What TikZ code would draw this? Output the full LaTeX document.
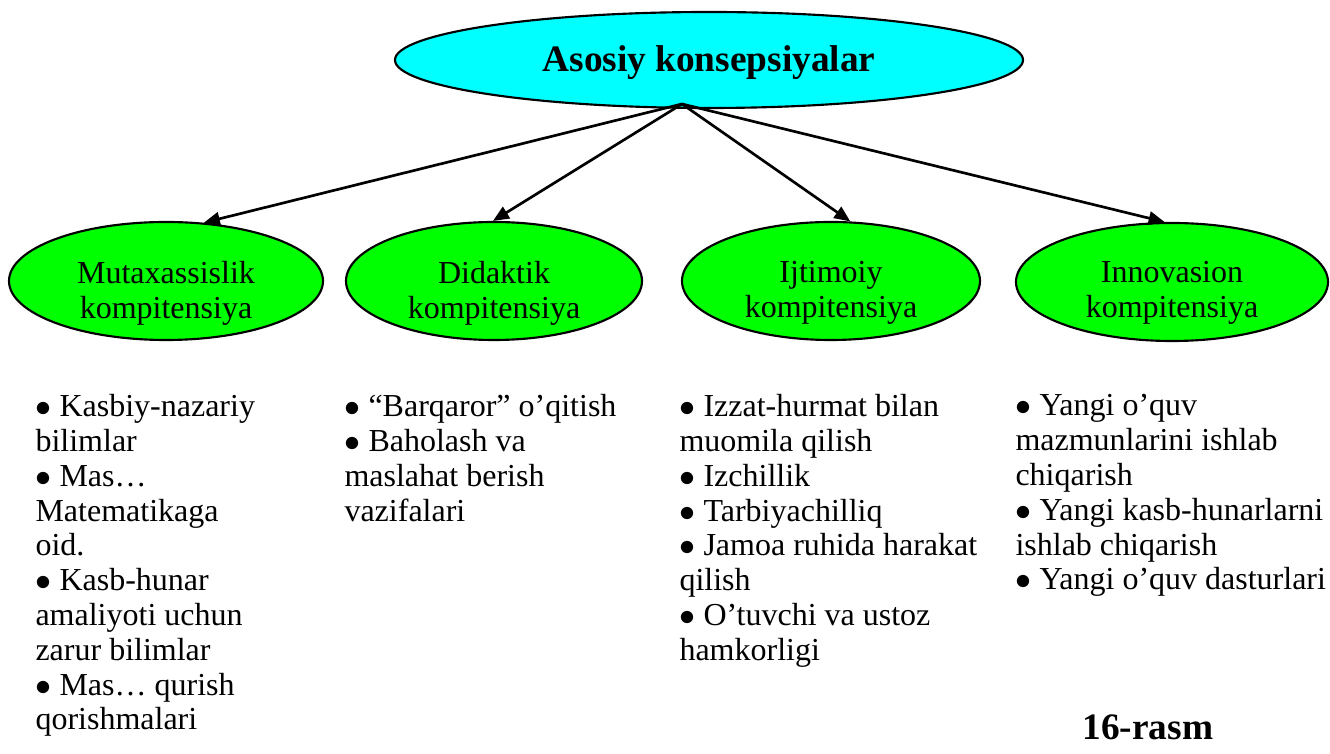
\documentclass[tikz,border=0pt]{standalone}
\usepackage{fontspec}
\setmainfont{Liberation Serif}
\usetikzlibrary{shapes.geometric,arrows.meta}
\definecolor{headfill}{RGB}{0,255,255}
\definecolor{compfill}{RGB}{0,255,0}
% list bullet: the heavier math bullet
\newcommand{\blt}{$\bullet$}
\begin{document}
\begin{tikzpicture}[x=0.375pt,y=-0.375pt,
  bodyfont/.style={font=\fontsize{12}{13.05}\selectfont},
  headell/.style={ellipse, draw, line width=0.8pt, fill=headfill, inner sep=0pt,
    minimum width=235.5pt, minimum height=36pt, text height=12pt, text depth=3pt,
    font=\fontsize{14}{16}\selectfont\bfseries},
  compell/.style={ellipse, draw, line width=0.8pt, fill=compfill, inner sep=0pt,
    minimum height=44.25pt},
  comptext/.style={bodyfont, align=center, inner sep=0pt, anchor=north},
  itemlist/.style={bodyfont, align=left, inner sep=0pt, anchor=north west},
  link/.style={line width=1pt, -{Triangle[length=6pt,width=5pt]}}
]
\useasboundingbox (0,0) rectangle (1330,754);

% central concept
\node[headell] (head) at (709,60) {Asosiy konsepsiyalar};
\coordinate (apex) at (682,104);

% the four competences
\node[compell, minimum width=117.75pt] (m1) at (166,281) {};
\node[compell, minimum width=111pt]    (m2) at (494,281) {};
\node[compell, minimum width=111.75pt] (m3) at (831,281) {};
\node[compell, minimum width=117pt]    (m4) at (1172,282) {};

\node[comptext] (m1t) at (166,261) {Mutaxassislik\\kompitensiya};
\node[comptext] (m2t) at (494,261) {Didaktik\\kompitensiya};
\node[comptext] (m3t) at (831,261) {Ijtimoiy\\kompitensiya};
\node[comptext] (m4t) at (1172,261) {Innovasion\\kompitensiya};

% connectors from the central concept
\draw[link] (apex) -- (m1.57);
\draw[link] (apex) -- (m2.91);
\draw[link] (apex) -- (m3.72);
\draw[link] (apex) -- (m4.97);

% item lists under each competence
\node[itemlist] (l1) at (35,394) {\blt{} Kasbiy-nazariy\\bilimlar\\\blt{} Mas…\\Matematikaga\\oid.\\\blt{} Kasb-hunar\\amaliyoti uchun\\zarur bilimlar\\\blt{} Mas… qurish\\qorishmalari};
\node[itemlist] (l2) at (344,394) {\blt{} “Barqaror” o’qitish\\\blt{} Baholash va\\maslahat berish\\vazifalari};
\node[itemlist] (l3) at (679,394) {\blt{} Izzat-hurmat bilan\\muomila qilish\\\blt{} Izchillik\\\blt{} Tarbiyachilliq\\\blt{} Jamoa ruhida harakat\\qilish\\\blt{} O’tuvchi va ustoz\\hamkorligi};
\node[itemlist] (l4) at (1015,394) {\blt{} Yangi o’quv\\mazmunlarini ishlab\\chiqarish\\\blt{} Yangi kasb-hunarlarni\\ishlab chiqarish\\\blt{} Yangi o’quv dasturlari};

% figure caption
\node[font=\fontsize{14}{16}\selectfont\bfseries, inner sep=0pt, anchor=base west] (cap) at (1082,740) {16-rasm};
\end{tikzpicture}
\end{document}
